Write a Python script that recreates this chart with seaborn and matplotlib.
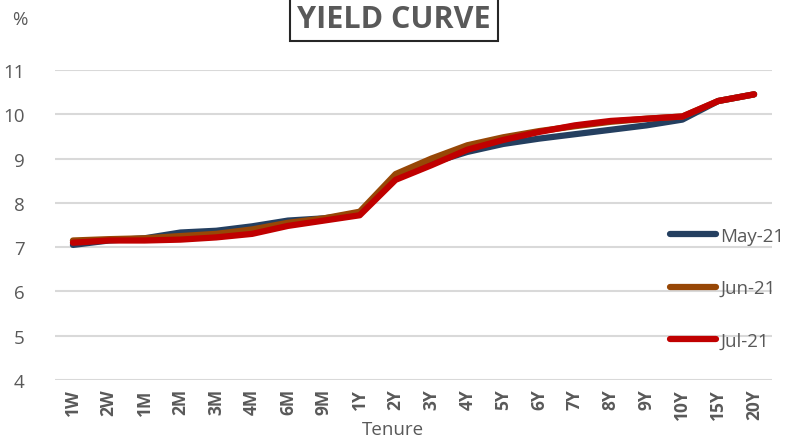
import matplotlib
matplotlib.use("Agg")
import matplotlib.pyplot as plt
import seaborn as sns
import pandas as pd

tenures = ["1W", "2W", "1M", "2M", "3M", "4M", "6M", "9M", "1Y", "2Y",
           "3Y", "4Y", "5Y", "6Y", "7Y", "8Y", "9Y", "10Y", "15Y", "20Y"]
may_21 = [7.05, 7.15, 7.20, 7.33, 7.37, 7.47, 7.60, 7.65, 7.75, 8.60,
          8.90, 9.15, 9.33, 9.45, 9.55, 9.65, 9.75, 9.88, 10.30, 10.45]
jun_21 = [7.15, 7.18, 7.20, 7.25, 7.30, 7.40, 7.55, 7.65, 7.80, 8.65,
          9.00, 9.30, 9.48, 9.62, 9.73, 9.83, 9.90, 9.95, 10.30, 10.45]
jul_21 = [7.10, 7.15, 7.15, 7.17, 7.22, 7.30, 7.48, 7.60, 7.72, 8.52,
          8.85, 9.20, 9.42, 9.60, 9.75, 9.85, 9.90, 9.95, 10.30, 10.45]
series_names = ["May-21", "Jun-21", "Jul-21"]
colors = ["#243F60", "#974706", "#C00000"]
y_ticks = [4, 5, 6, 7, 8, 9, 10, 11]

rows = []
for name, vals in zip(series_names, [may_21, jun_21, jul_21]):
    for i, (t, v) in enumerate(zip(tenures, vals)):
        rows.append({"pos": i, "Tenure": t, "Yield": v, "Month": name})
df = pd.DataFrame(rows)

sns.set_theme(style="white")
plt.rcParams["font.family"] = ["Open Sans", "DejaVu Sans"]
text_gray = "#595959"

fig = plt.figure(figsize=(7.96, 4.39), dpi=100)
ax = fig.add_axes([55 / 796, 1 - 381 / 439, 717 / 796, 310 / 439])

sns.lineplot(data=df, x="pos", y="Yield", hue="Month", hue_order=series_names,
             palette=colors, linewidth=4.5, ax=ax, sort=False,
             solid_capstyle="round", solid_joinstyle="round")

ax.set_xlim(-0.5, len(tenures) - 0.5)
ax.set_ylim(4, 11)
ax.set_yticks(y_ticks)
ax.set_yticklabels([str(v) for v in y_ticks], color=text_gray, fontsize=13.5)
ax.set_xticks(range(len(tenures)))
ax.set_xticklabels(tenures, rotation=90, fontweight="bold", color=text_gray,
                   fontsize=12.5)
ax.tick_params(axis="both", length=0)
ax.tick_params(axis="y", pad=22)
ax.tick_params(axis="x", pad=6)
ax.grid(axis="y", color="#D9D9D9", linewidth=1.5)
ax.set_axisbelow(True)
for s in ax.spines.values():
    s.set_visible(False)
ax.set_xlabel("")
ax.set_ylabel("")

fig.text(393 / 796, 1 - 430 / 439, "Tenure", ha="center", va="center",
         color=text_gray, fontsize=13.5)
fig.text(20 / 796, 1 - 20 / 439, "%", ha="center", va="center",
         color=text_gray, fontsize=13.5)
fig.text(394 / 796, 1 - 20 / 439, "YIELD CURVE", ha="center", va="center",
         color=text_gray, fontsize=22, fontweight="bold",
         bbox=dict(boxstyle="square,pad=0.24", facecolor="white",
                   edgecolor="#262626", linewidth=1.5))

handles, labels = ax.get_legend_handles_labels()
leg = ax.legend(handles, labels, loc="upper left",
                bbox_to_anchor=(662 / 796, 1 - 220 / 439),
                bbox_transform=fig.transFigure, frameon=False,
                fontsize=13.5, handlelength=2.5, handletextpad=0.2,
                labelspacing=1.85, borderaxespad=0)
for t in leg.get_texts():
    t.set_color(text_gray)
for h in leg.get_lines():
    h.set_linewidth(4.5)
    h.set_solid_capstyle("round")

fig.savefig("out.png", dpi=100)
